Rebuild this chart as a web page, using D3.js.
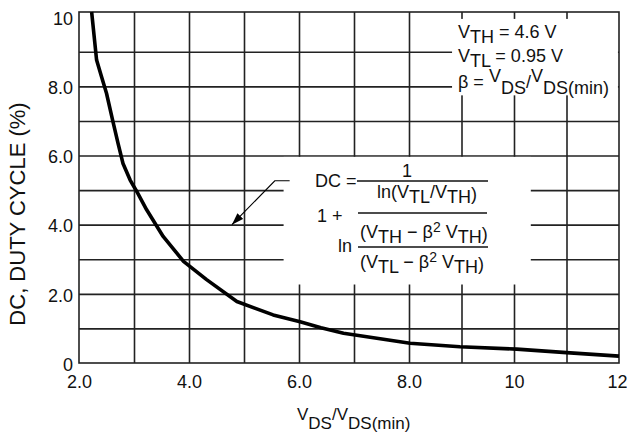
<!DOCTYPE html>
<html>
<head>
<meta charset="utf-8">
<script src="https://cdn.jsdelivr.net/npm/d3@7"></script>
<style>
body { margin: 0; background: #fff; }
svg text { font-family: "Liberation Sans", Arial, sans-serif; fill: #111; }
</style>
</head>
<body>
<script>
// duty cycle curve (beta = VDS/VDS(min), DC in %)
const beta = [2.23, 2.32, 2.41, 2.50, 2.61, 2.71, 2.80, 2.93, 3.05, 3.23, 3.53, 3.90, 4.32, 4.87, 5.53, 6.02, 6.40, 6.81, 8.02, 8.97, 10.05, 11.0, 12];
const dutyCycle = [10.15, 8.76, 8.28, 7.80, 7.03, 6.35, 5.77, 5.29, 4.96, 4.43, 3.66, 2.94, 2.41, 1.78, 1.39, 1.19, 1.02, 0.86, 0.57, 0.47, 0.40, 0.30, 0.20];

const xTicks = [2, 4, 6, 8, 10, 12];
const xTickLabels = ["2.0", "4.0", "6.0", "8.0", "10", "12"];
const yTicks = [0, 2, 4, 6, 8, 10];
const yTickLabels = ["0", "2.0", "4.0", "6.0", "8.0", "10"];
const xGrid = [3, 4, 5, 6, 7, 8, 9, 10, 11];
const yGrid = [1, 2, 3, 4, 5, 6, 7, 8, 9];

const W = 627, H = 434;
const svg = d3.select("body").append("svg").attr("width", W).attr("height", H);

// the scanned grid is not quite even, so x is split at 8
const x = d3.scaleLinear().domain([2, 8, 12]).range([79, 409, 619]);
const y = d3.scaleLinear().domain([0, 10.15]).range([363, 12]);

const gridColor = "#222";

// grid lines
let gx = svg.append("g")
    .attr("transform", "translate(0," + y(0) + ")")
    .call(d3.axisBottom(x).tickValues(xGrid).tickSize(-(y(0) - y(10.15))).tickFormat(""));
gx.select(".domain").remove();
gx.selectAll("line").attr("stroke", gridColor).attr("stroke-width", 1.6);

let gy = svg.append("g")
    .attr("transform", "translate(" + x(2) + ",0)")
    .call(d3.axisLeft(y).tickValues(yGrid).tickSize(-(x(12) - x(2))).tickFormat(""));
gy.select(".domain").remove();
gy.selectAll("line").attr("stroke", gridColor).attr("stroke-width", 1.6);

// white boxes behind the notes (in data units)
const boxes = [
    {x0: 8.82, x1: 11.98, y0: 7.74, y1: 9.95},
    {x0: 5.72, x1: 10.32, y0: 2.27, y1: 5.96}
];
svg.selectAll(".box")
    .data(boxes)
    .enter()
    .append("rect")
    .attr("x", d => x(d.x0))
    .attr("y", d => y(d.y1))
    .attr("width", d => x(d.x1) - x(d.x0))
    .attr("height", d => y(d.y0) - y(d.y1))
    .attr("fill", "#fff");

// frame
svg.append("rect")
    .attr("x", x(2)).attr("y", y(10.15))
    .attr("width", x(12) - x(2)).attr("height", y(0) - y(10.15))
    .attr("fill", "none").attr("stroke", gridColor).attr("stroke-width", 1.6);

// tick labels
let ax = svg.append("g")
    .attr("transform", "translate(0," + y(0) + ")")
    .call(d3.axisBottom(x).tickValues(xTicks).tickSize(0).tickPadding(12)
        .tickFormat((d, i) => xTickLabels[i]));
ax.select(".domain").remove();
ax.attr("font-size", 18).attr("font-family", null);
// keep the last label inside the page
ax.selectAll("text").filter(d => d == 12).attr("text-anchor", "end").attr("dx", 8);

let ay = svg.append("g")
    .attr("transform", "translate(" + x(2) + ",0)")
    .call(d3.axisLeft(y).tickValues(yTicks).tickSize(0).tickPadding(6)
        .tickFormat((d, i) => yTickLabels[i]));
ay.select(".domain").remove();
ay.attr("font-size", 18).attr("font-family", null);
ay.selectAll("text").attr("dy", "0.4em");

// curve
const line = d3.line().x(d => x(d[0])).y(d => y(d[1]));
svg.append("path")
    .datum(d3.zip(beta, dutyCycle))
    .attr("d", line)
    .attr("fill", "none")
    .attr("stroke", "#000")
    .attr("stroke-width", 3.6)
    .attr("stroke-linejoin", "round");

// axis titles
let xt = svg.append("text").attr("x", 297).attr("y", 420).attr("font-size", 17);
xt.append("tspan").text("V");
xt.append("tspan").attr("dy", 9).text("DS");
xt.append("tspan").attr("dy", -9).text("/V");
xt.append("tspan").attr("dy", 9).text("DS(min)");

svg.append("text")
    .attr("transform", "translate(25,214) rotate(-90)")
    .attr("text-anchor", "middle")
    .attr("font-size", 22)
    .text("DC, DUTY CYCLE (%)");

// conditions, top right
function sub(t, parts) {
    parts.forEach(p => {
        let s = t.append("tspan").text(p[0]);
        if (p[1]) s.attr("dy", p[1]);
        if (p[2]) s.attr("font-size", p[2]);
    });
}
let c1 = svg.append("text").attr("x", 458).attr("y", 38).attr("font-size", 18);
sub(c1, [["V"], ["TH", 5], [" = 4.6 V", -5]]);
let c2 = svg.append("text").attr("x", 458).attr("y", 62).attr("font-size", 18);
sub(c2, [["V"], ["TL", 5], [" = 0.95 V", -5]]);
let c3 = svg.append("text").attr("x", 458).attr("y", 88).attr("font-size", 18);
sub(c3, [["β = "], ["V", -6], ["DS", 12], ["/", -6], ["V", -6], ["DS(min)", 12]]);

// formula
let f = svg.append("g").attr("font-size", 18);
f.append("text").attr("x", 315).attr("y", 187).text("DC =");
f.append("text").attr("x", 407).attr("y", 177).attr("text-anchor", "middle").text("1");
let n1 = f.append("text").attr("x", 377).attr("y", 198);
sub(n1, [["ln(V"], ["TL", 5], ["/V", -5], ["TH", 5], [")", -3]]);
f.append("text").attr("x", 317).attr("y", 222).text("1 +");
f.append("text").attr("x", 338).attr("y", 252).text("ln");
let n2 = f.append("text").attr("x", 360).attr("y", 238);
sub(n2, [["(V"], ["TH", 5], [" − β", -5], ["2", -6, 14], [" V", 6], ["TH", 5], [")", -3]]);
let n3 = f.append("text").attr("x", 360).attr("y", 268);
sub(n3, [["(V"], ["TL", 5], [" − β", -5], ["2", -6, 14], [" V", 6], ["TH", 5], [")", -3]]);

const bars = [[357, 488, 181], [358, 487, 213], [358, 488, 247]];
f.selectAll("line")
    .data(bars)
    .enter()
    .append("line")
    .attr("x1", d => d[0]).attr("x2", d => d[1])
    .attr("y1", d => d[2]).attr("y2", d => d[2])
    .attr("stroke", "#111").attr("stroke-width", 1.4);

// leader arrow from the formula to the curve (data units)
const leader = [[5.83, 5.27], [5.56, 5.27], [4.78, 4.0]];
svg.append("defs").append("marker")
    .attr("id", "head")
    .attr("viewBox", "0 0 12 8")
    .attr("refX", 12).attr("refY", 4)
    .attr("markerWidth", 12).attr("markerHeight", 8)
    .attr("markerUnits", "userSpaceOnUse")
    .attr("orient", "auto")
    .append("path").attr("d", "M0,0 L12,4 L0,8 Z").attr("fill", "#000");
svg.append("path")
    .datum(leader)
    .attr("d", line)
    .attr("fill", "none")
    .attr("stroke", "#000")
    .attr("stroke-width", 1.2)
    .attr("marker-end", "url(#head)");
</script>
</body>
</html>
